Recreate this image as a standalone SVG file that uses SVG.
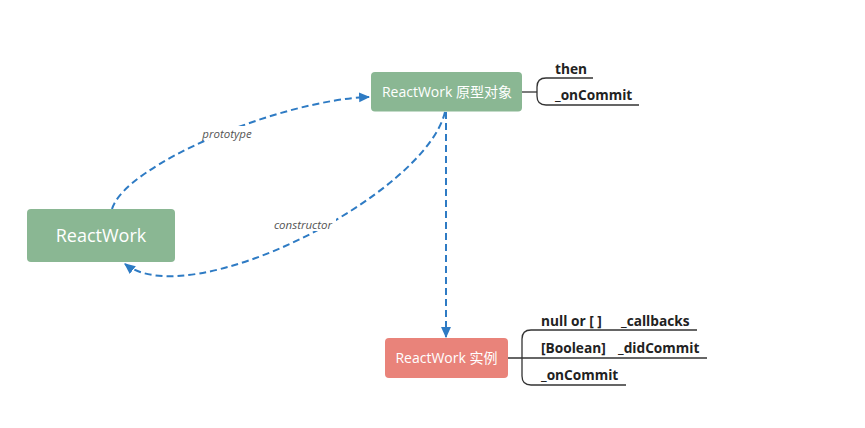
<svg xmlns="http://www.w3.org/2000/svg" width="865" height="428" viewBox="0 0 865 428">
<defs>
<marker id="arr" viewBox="0 0 10 10" refX="9" refY="5" markerWidth="11" markerHeight="11" markerUnits="userSpaceOnUse" orient="auto">
<path d="M0,0.5 L10,5 L0,9.5 Z" fill="#2E7BC4"/>
</marker>
<style>
.edge{fill:none;stroke:#2E7BC4;stroke-width:2;stroke-dasharray:7 4}
.lbl{font-family:"Open Sans","Liberation Sans",sans-serif;font-style:italic;font-size:11.5px;fill:#555;text-anchor:middle}
.lblbg{fill:#fff}
.nodetxt{font-family:"Open Sans","Noto Sans CJK SC",sans-serif;fill:#fff;text-anchor:middle}
.br{fill:none;stroke:#333;stroke-width:1.3}
.bt{font-family:"Open Sans","Liberation Sans",sans-serif;font-weight:bold;font-size:13.7px;fill:#222}
</style>
</defs>
<rect width="865" height="428" fill="#fff"/>
<g id="connectors">
<path class="edge" d="M112,209 C125,165 280,100 369,97" marker-end="url(#arr)"/>
<path class="edge" d="M445,112 C425,195 190,315 125,264" marker-end="url(#arr)"/>
<path class="edge" d="M446,112 L446,337" marker-end="url(#arr)"/>
<rect class="lblbg" x="199" y="126" width="56" height="14"/>
<text class="lbl" x="227" y="137.5">prototype</text>
<rect class="lblbg" x="270" y="216" width="66" height="15"/>
<text class="lbl" x="303" y="228.5">constructor</text>
</g>
<g id="node-reactwork">
<rect x="27" y="209" width="148" height="53" rx="4" fill="#8AB793"/>
<text class="nodetxt" x="101" y="242" font-size="18">ReactWork</text>
</g>
<g id="node-prototype">
<rect x="371" y="72" width="151" height="39.5" rx="4" fill="#8AB793"/>
<text class="nodetxt" x="447" y="97" font-size="14">ReactWork 原型对象</text>
</g>
<g id="prototype-fields">
<path class="br" d="M522,92 H537"/>
<path class="br" d="M593,78 H546 Q537,78 537,87 V96 Q537,105 546,105 H639"/>
<text class="bt" x="555" y="74">then</text>
<text class="bt" x="555" y="100">_onCommit</text>
</g>
<g id="node-instance">
<rect x="385" y="338" width="123" height="40" rx="4" fill="#E9837A"/>
<text class="nodetxt" x="446.5" y="363" font-size="14">ReactWork 实例</text>
</g>
<g id="instance-fields">
<path class="br" d="M508,358 H707"/>
<path class="br" d="M697,330 H531 Q522,330 522,339 V376 Q522,385 531,385 H626"/>
<text class="bt" x="541" y="326">null or [ ]</text>
<text class="bt" x="621" y="326">_callbacks</text>
<text class="bt" x="541" y="353">[Boolean]</text>
<text class="bt" x="618" y="353">_didCommit</text>
<text class="bt" x="541" y="380">_onCommit</text>
</g>
</svg>
